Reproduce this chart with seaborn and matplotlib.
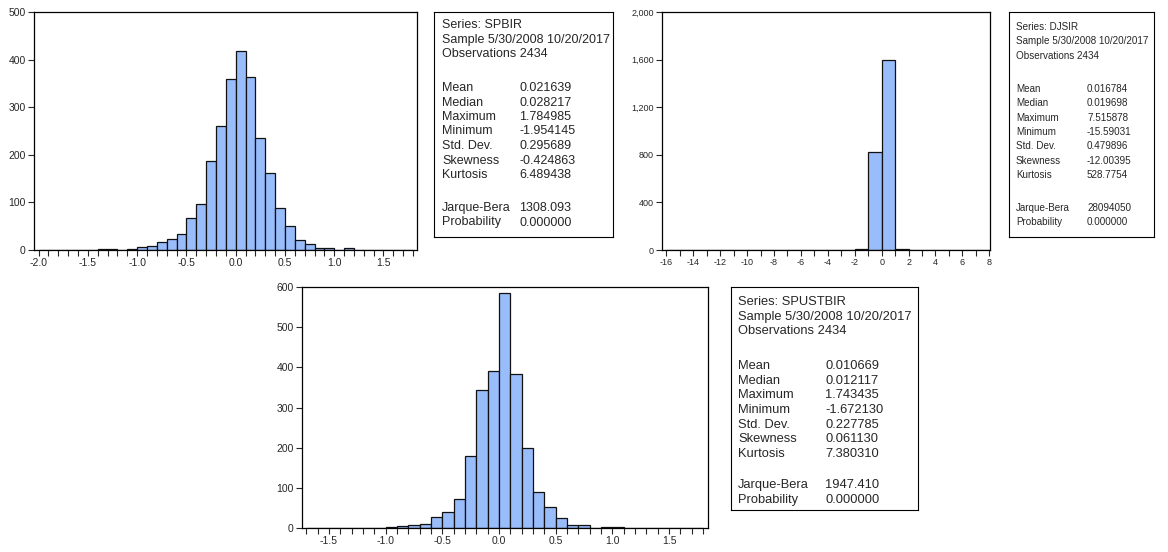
import numpy as np
import pandas as pd
import seaborn as sns
import matplotlib.pyplot as plt
from matplotlib.ticker import MultipleLocator, StrMethodFormatter

sns.set_style('white')
plt.rcParams['font.family'] = ['Liberation Sans', 'DejaVu Sans']
plt.rcParams['axes.unicode_minus'] = False

# histogram counts (left bin edge = start + i * width)
spbir_start, spbir_width = -2.0, 0.1
spbir_counts = [1, 0, 0, 1, 1, 0, 2, 3, 1, 2, 6, 8, 16, 23, 34, 67, 97, 188, 260,
                360, 419, 363, 235, 161, 89, 51, 22, 12, 4, 5, 1, 4, 0, 1, 0, 0, 0, 1]

djsir_start, djsir_width = -16, 1
djsir_counts = [1, 0, 0, 0, 0, 0, 0, 0, 0, 0, 0, 0, 0, 0, 6, 822, 1597, 7,
                0, 0, 0, 0, 0, 1]

spustbir_start, spustbir_width = -1.7, 0.1
spustbir_counts = [1, 0, 0, 0, 0, 0, 0, 2, 5, 7, 11, 27, 41, 72, 179, 344, 390,
                   585, 383, 199, 90, 53, 24, 7, 7, 1, 2, 3, 0, 1, 0, 0, 0, 0, 1]

stat_names = ['Mean', 'Median', 'Maximum', 'Minimum', 'Std. Dev.', 'Skewness', 'Kurtosis']
spbir_stats = ['0.021639', '0.028217', '1.784985', '-1.954145', '0.295689', '-0.424863', '6.489438']
djsir_stats = ['0.016784', '0.019698', '7.515878', '-15.59031', '0.479896', '-12.00395', '528.7754']
spustbir_stats = ['0.010669', '0.012117', '1.743435', '-1.672130', '0.227785', '0.061130', '7.380310']
jb_values = {'SPBIR': '1308.093', 'DJSIR': '28094050', 'SPUSTBIR': '1947.410'}
sample_text = 'Sample 5/30/2008 10/20/2017'
n_obs = 2434

bar_color = '#99bcfb'

fig = plt.figure(figsize=(11.68, 5.52), dpi=100)
W, H = 1168, 552


def px_axes(x0, y0, x1, y1):
    return fig.add_axes([x0 / W, 1 - y1 / H, (x1 - x0) / W, (y1 - y0) / H])


def hist_panel(ax, start, width, counts, xlim, ylim, ystep, xmajor, fmt_x, fmt_y, fs):
    n = len(counts)
    edges = [float(v) for v in start + width * np.arange(n + 1)]
    centers = [e + width / 2 for e in edges[:-1]]
    df = pd.DataFrame({'x': centers, 'count': counts})
    sns.histplot(data=df, x='x', weights='count', bins=edges, ax=ax,
                 color=bar_color, edgecolor='#111111', linewidth=0.9, alpha=1)
    ax.set_xlim(*xlim)
    ax.set_ylim(*ylim)
    ax.set_xlabel('')
    ax.set_ylabel('')
    ax.yaxis.set_major_locator(MultipleLocator(ystep))
    ax.xaxis.set_major_locator(MultipleLocator(xmajor))
    ax.xaxis.set_minor_locator(MultipleLocator(width))
    ax.xaxis.set_major_formatter(StrMethodFormatter(fmt_x))
    ax.yaxis.set_major_formatter(StrMethodFormatter(fmt_y))
    ax.tick_params(axis='both', which='both', direction='out', length=4, width=0.8,
                   labelsize=fs, pad=2, bottom=True, left=True)
    for sp in ax.spines.values():
        sp.set_color('black')
        sp.set_linewidth(0.9)


def stats_box(box, series, stats, jb, fs, x_lab, x_val, y_head, y_mean, y_jb, step):
    ax = px_axes(*box)
    ax.set_xticks([])
    ax.set_yticks([])
    for sp in ax.spines.values():
        sp.set_color('black')
        sp.set_linewidth(0.8)

    def put(x, y, s):
        fig.text(x / W, 1 - y / H, s, fontsize=fs, ha='left', va='center')

    head = [f'Series: {series}', sample_text, f'Observations {n_obs}']
    for i, s in enumerate(head):
        put(x_lab, y_head + i * step, s)
    for i, (name, val) in enumerate(zip(stat_names, stats)):
        put(x_lab, y_mean + i * step, name)
        put(x_val, y_mean + i * step, val)
    for i, (name, val) in enumerate(zip(['Jarque-Bera', 'Probability'], [jb, '0.000000'])):
        put(x_lab, y_jb + i * step, name)
        put(x_val, y_jb + i * step, val)


ax1 = px_axes(34, 12, 417, 250)
hist_panel(ax1, spbir_start, spbir_width, spbir_counts, (-2.047, 1.84), (0, 500), 100,
           0.5, '{x:.1f}', '{x:.0f}', 7.5)

ax2 = px_axes(662, 12, 990, 250)
hist_panel(ax2, djsir_start, djsir_width, djsir_counts, (-16.32, 8.05), (0, 2000), 400,
           2, '{x:.0f}', '{x:,.0f}', 6.5)

ax3 = px_axes(302, 287, 708, 528)
hist_panel(ax3, spustbir_start, spustbir_width, spustbir_counts, (-1.738, 1.844), (0, 600), 100,
           0.5, '{x:.1f}', '{x:.0f}', 7.5)

stats_box((434, 12, 613, 237), 'SPBIR', spbir_stats, jb_values['SPBIR'], 9.0,
          442, 519, 25, 88, 208, 14.5)
stats_box((1009, 12, 1154, 237), 'DJSIR', djsir_stats, jb_values['DJSIR'], 7.1,
          1016, 1087, 27, 89, 208, 14.3)
stats_box((731, 287, 918, 510), 'SPUSTBIR', spustbir_stats, jb_values['SPUSTBIR'], 9.3,
          738, 825, 302, 366, 485, 14.7)

fig.savefig('out.png', dpi=100)
